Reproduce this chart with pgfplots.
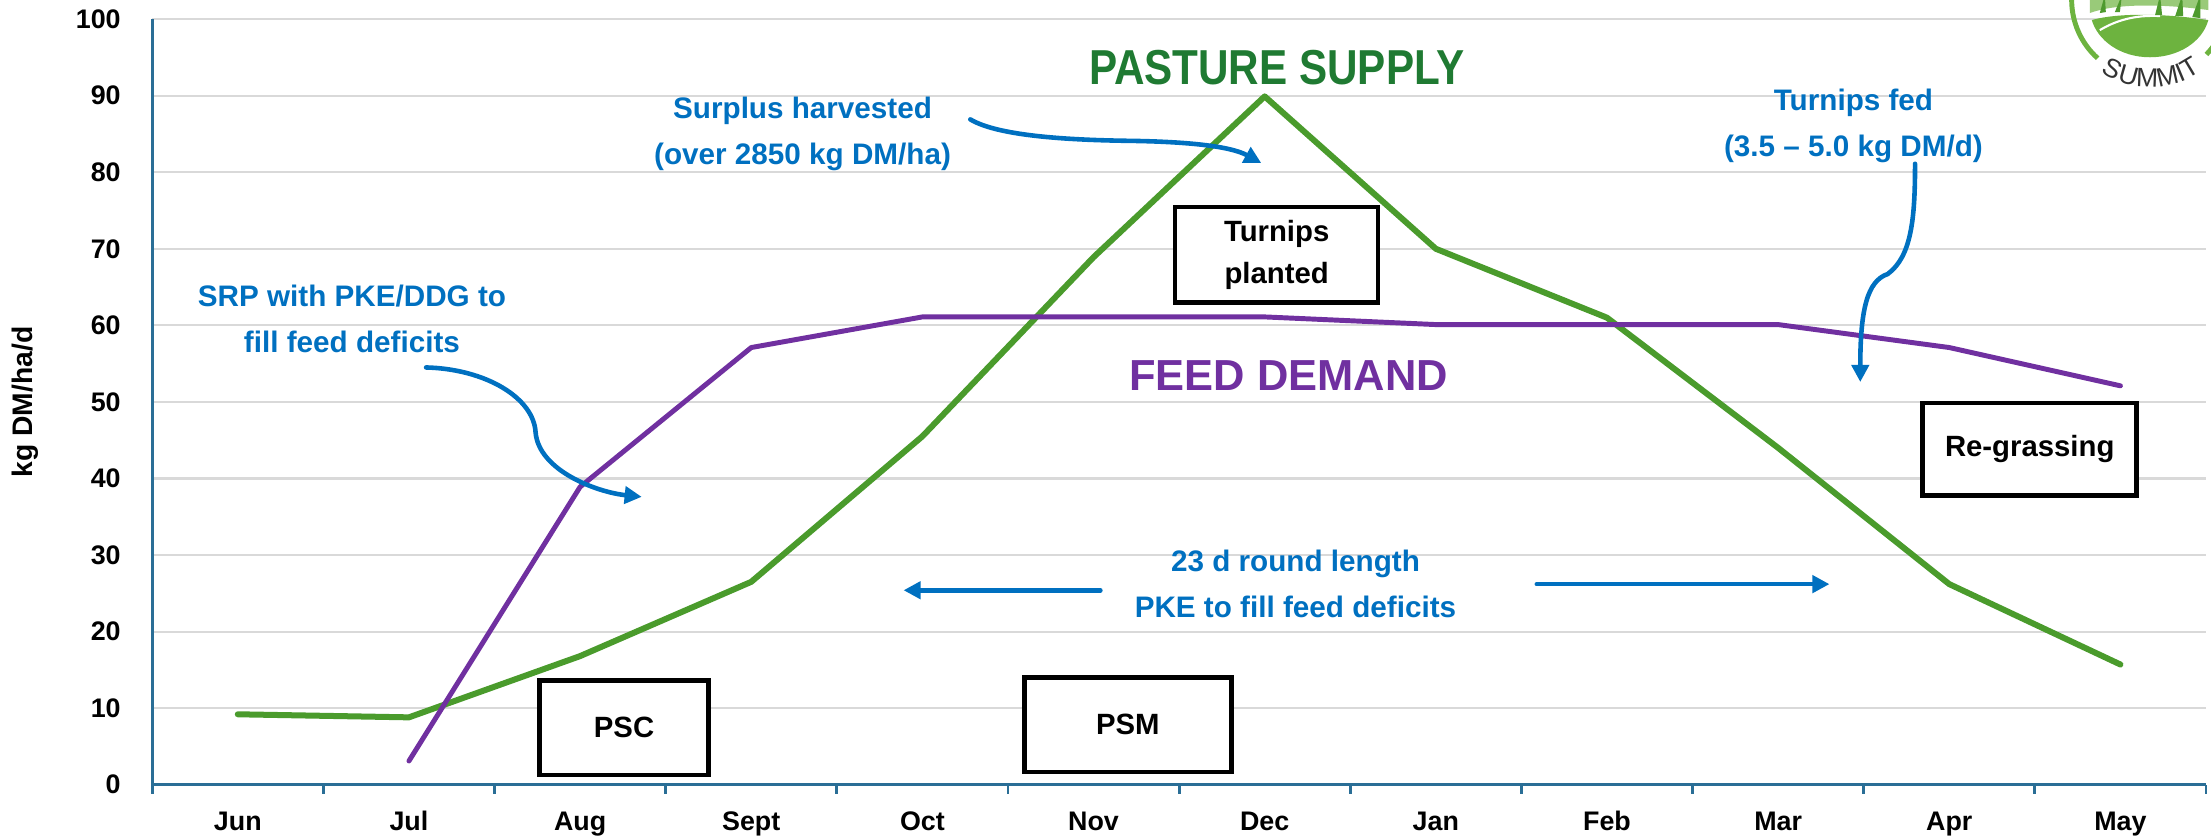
\documentclass[border=0pt]{standalone}
\usepackage{fontspec}
\setmainfont{Liberation Sans}
\newfontfamily\narrowfont[FakeStretch=0.86]{Liberation Sans}
\usepackage{pgfplots}
\pgfplotsset{compat=1.18}
\usetikzlibrary{arrows.meta,decorations.text}
\definecolor{supply}{HTML}{4A9B2C}
\definecolor{demand}{HTML}{7030A0}
\definecolor{note}{HTML}{0070C0}
\definecolor{supplytitle}{HTML}{1F7A32}
\definecolor{axisblue}{HTML}{2A6E96}
\definecolor{gridgray}{HTML}{D9D9D9}
\definecolor{logogreen}{HTML}{6DB33F}
\definecolor{logodark}{HTML}{4E9A2E}
\definecolor{logotext}{HTML}{333333}
\tikzset{
  note arrow/.style={note, line width=1.3pt, line cap=round,
    -{Triangle[length=0.17cm,width=0.17cm]}},
  notetext/.style={note, align=center, font=\fontsize{8.4}{13}\selectfont\bfseries},
  stagebox/.style={draw=black, line width=1.3pt, fill=white, align=center,
    inner sep=0pt, font=\fontsize{8.3}{12}\selectfont\bfseries}
}
\begin{document}
\begin{tikzpicture}
\begin{axis}[
  name=ax,
  width=20.44cm, height=7.62cm, scale only axis,
  xmin=-0.5, xmax=11.5, ymin=0, ymax=100,
  xtick={0,...,11},
  xticklabels={Jun,Jul,Aug,Sept,Oct,Nov,Dec,Jan,Feb,Mar,Apr,May},
  minor xtick={-0.5,0.5,...,11.5},
  ytick={0,10,...,100},
  axis x line*=bottom, axis y line*=left,
  axis line style={axisblue, line width=0.8pt, -},
  ymajorgrids, grid style={gridgray, line width=0.6pt},
  major tick length=0pt, minor tick length=0.09cm, tick align=outside,
  minor x tick style={axisblue, line width=0.8pt},
  /pgf/number format/assume math mode=true,
  tick label style={font=\fontsize{7.6}{8}\selectfont\bfseries},
  xticklabel style={anchor=base, yshift=-0.455cm},
  yticklabel style={xshift=-0.19cm},
  ylabel={kg DM/ha/d},
  ylabel style={at={(axis description cs:-0.0618,0.5)}, anchor=center,
    font=\fontsize{8}{9}\selectfont\bfseries},
  clip=false
]
% pasture supply
\addplot[supply, line width=1.7pt, line cap=round, line join=round] coordinates {
  (0,9.2) (1,8.8) (2,16.8) (3,26.5) (4,45.5) (5,68.9)
  (6,89.9) (7,70.0) (8,61.0) (9,44.0) (10,26.2) (11,15.7)};
% feed demand
\addplot[demand, line width=1.4pt, line cap=round, line join=round] coordinates {
  (1,3.1) (2,38.9) (3,57.1) (4,61.1) (5,61.1) (6,61.1)
  (7,60.1) (8,60.1) (9,60.1) (10,57.1) (11,52.1)};

% titles of the lines
\node[supplytitle, font=\fontsize{13.9}{14}\narrowfont\bfseries] at (axis cs:6.07,93.7) {PASTURE SUPPLY};
\node[demand, font=\fontsize{12.3}{13}\selectfont\bfseries] at (axis cs:6.14,53.4) {FEED DEMAND};

% notes
\node[notetext] at (axis cs:3.30,85.0) {Surplus harvested\\(over 2850 kg DM/ha)};
\draw[note arrow] (axis cs:4.28,86.9) .. controls (axis cs:4.45,84.6) and (axis cs:4.9,84.2)
  .. (axis cs:5.2,84.1) .. controls (axis cs:5.55,84.0) and (axis cs:5.8,83.4) .. (axis cs:5.98,81.2);

\node[notetext] at (axis cs:9.44,86.05) {Turnips fed\\(3.5 – 5.0 kg DM/d)};
\draw[note arrow] (axis cs:9.80,81.1) .. controls (axis cs:9.80,74) and (axis cs:9.78,69)
  .. (axis cs:9.64,66.7) .. controls (axis cs:9.52,65.8) and (axis cs:9.48,62)
  .. (axis cs:9.48,52.6);

\node[notetext] at (axis cs:0.667,60.8) {SRP with PKE/DDG to\\fill feed deficits};
\draw[note arrow] (axis cs:1.10,54.5) .. controls (axis cs:1.45,54.3) and (axis cs:1.73,50.5)
  .. (axis cs:1.74,46.0) .. controls (axis cs:1.76,41.0) and (axis cs:2.10,38.2) .. (axis cs:2.36,37.6);

\node[notetext] at (axis cs:6.18,26.2) {23 d round length\\PKE to fill feed deficits};
\draw[note arrow] (axis cs:5.04,25.4) -- (axis cs:3.89,25.4);
\draw[note arrow] (axis cs:7.59,26.2) -- (axis cs:9.30,26.2);

% stage boxes
\node[stagebox, minimum width=2.02cm, minimum height=0.95cm] at (axis cs:6.07,69.2) {Turnips\\planted};
\node[stagebox, minimum width=1.68cm, minimum height=0.94cm] at (axis cs:2.257,7.46) {PSC};
\node[stagebox, minimum width=2.06cm, minimum height=0.94cm] at (axis cs:5.20,7.83) {PSM};
\node[stagebox, minimum width=2.13cm, minimum height=0.92cm] at (axis cs:10.47,43.8) {Re-grassing};
\end{axis}

% logo in the corner
\begin{scope}[shift={(ax.north east)}, xshift=-0.557cm, yshift=0.19cm]
  \fill[logogreen!70] (-0.60,-0.13) .. controls (-0.3,-0.02) and (0.2,-0.05) .. (0.58,-0.10)
    -- (0.58,0.1) -- (-0.60,0.1) -- cycle;
  \fill[logogreen] (-0.58,-0.20) .. controls (-0.30,-0.12) and (0.20,-0.14) .. (0.58,-0.20)
    .. controls (0.52,-0.42) and (0.28,-0.57) .. (0,-0.57)
    .. controls (-0.30,-0.57) and (-0.52,-0.40) .. cycle;
  \draw[white, line width=0.6pt] (-0.50,-0.30) .. controls (-0.3,-0.18) and (-0.1,-0.15) .. (0.1,-0.16);
  \fill[logodark] (-0.50,-0.13) -- (-0.45,0.05) -- (-0.44,-0.12) -- cycle;
  \fill[logodark] (-0.35,-0.12) -- (-0.28,0.05) -- (-0.30,-0.12) -- cycle;
  \fill[logodark] (0.05,-0.15) -- (0.10,0.05) -- (0.12,-0.15) -- cycle;
  \fill[logodark] (0.25,-0.16) -- (0.32,0.05) -- (0.33,-0.16) -- cycle;
  \fill[logodark] (0.42,-0.17) -- (0.50,0.05) -- (0.50,-0.18) -- cycle;
  \draw[logogreen, line width=1.4pt] (180:0.78) arc (180:228:0.78);
  \draw[logogreen, line width=1.4pt] (316:0.78) arc (316:365:0.78);
  \path[decorate, decoration={text along path, text align=fit to path,
    text={|\fontsize{7.5}{8}\selectfont\color{logotext}|SUMMIT}}]
    (236:0.87) arc (236:306:0.87);
\end{scope}

\pgfresetboundingbox
\path[use as bounding box] ([xshift=-1.515cm,yshift=-0.517cm]ax.south west)
  rectangle ([xshift=0.05cm,yshift=0.19cm]ax.north east);
\end{tikzpicture}
\end{document}
